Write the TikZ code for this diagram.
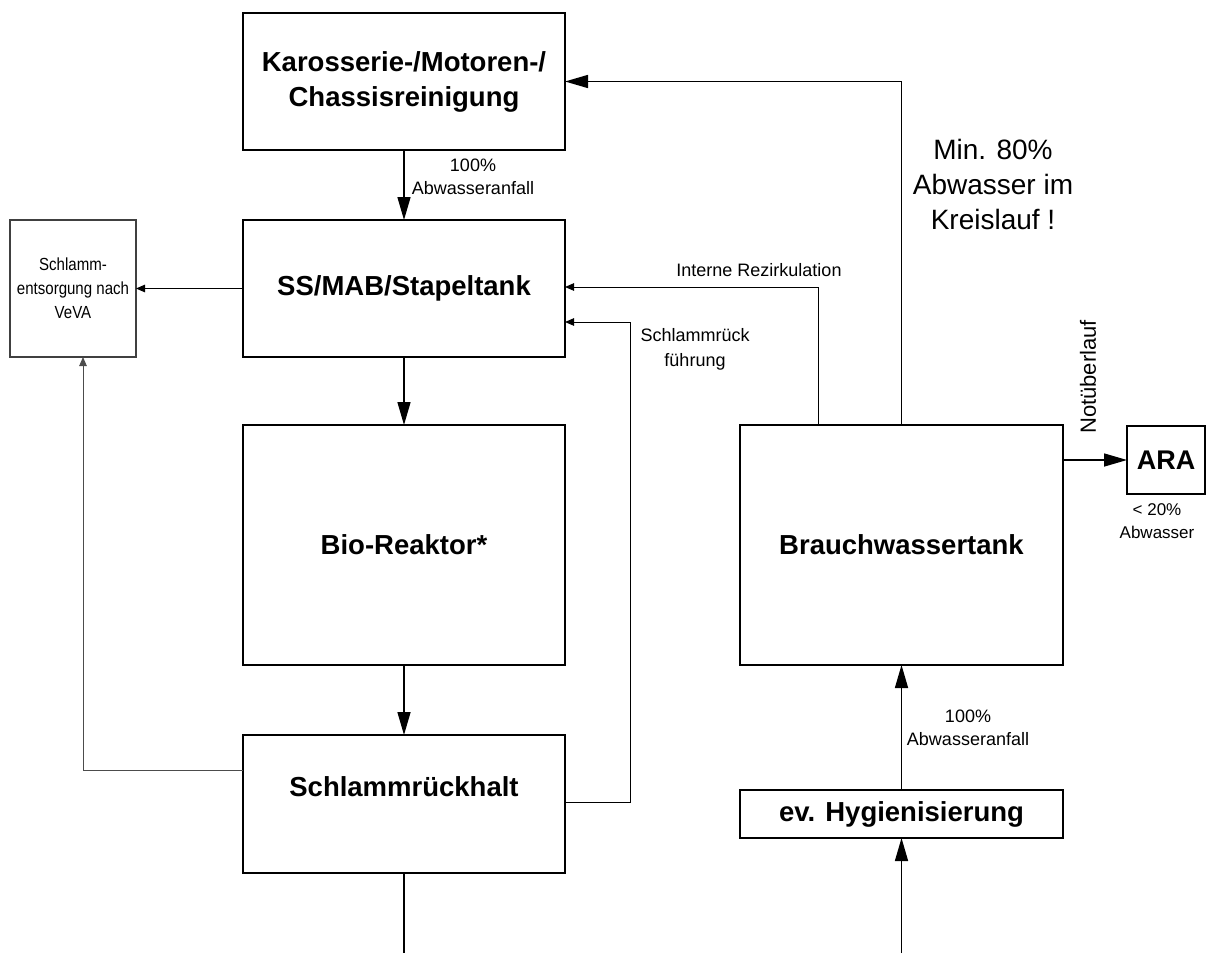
\documentclass[tikz,border=0pt]{standalone}
\usepackage{fontspec}
\setmainfont{Liberation Sans}
\newfontfamily\narrowfont[FakeStretch=0.86]{Liberation Sans}
\usetikzlibrary{arrows.meta}
\tikzset{
  box/.style={draw=black, line width=1.8pt, fill=white, inner sep=0pt, outer sep=0pt, align=center},
  bigtxt/.style={font=\fontsize{27.5}{35}\selectfont\bfseries, align=center},
  smalltxt/.style={font=\fontsize{18}{23}\selectfont, align=center, inner sep=0pt},
  mainflow/.style={line width=1.5pt, -{Triangle[length=23pt,width=13pt]}},
  thinflow/.style={line width=1pt, -{Triangle[length=9pt,width=7.5pt]}},
  plainflow/.style={line width=1.5pt}
}
\begin{document}
\begin{tikzpicture}[x=1pt,y=-1pt]
\useasboundingbox (0,0) rectangle (1206,953);
% boxes
\node[box, minimum width=322pt, minimum height=137pt, bigtxt] (kar) at (404,81.5) {Karosserie-/Motoren-/\\Chassisreinigung};
\node[box, minimum width=322pt, minimum height=137pt, bigtxt] (ss) at (404,288.5) {SS/MAB/Stapeltank};
\node[box, draw=black!75, line width=1.3pt, minimum width=126pt, minimum height=137pt, font=\narrowfont\fontsize{17.5}{24}\selectfont] (schl) at (73,288.5) {Schlamm-\\entsorgung nach\\VeVA};
\node[box, minimum width=322pt, minimum height=240pt, bigtxt] (bio) at (404,545) {Bio-Reaktor*};
\node[box, minimum width=322pt, minimum height=138pt] (sr) at (404,804) {};
\node[bigtxt] (srtext) at (404,787) {Schlammrückhalt};
\node[box, minimum width=323pt, minimum height=240pt, bigtxt] (bw) at (901.5,545) {Brauchwassertank};
\node[box, minimum width=323pt, minimum height=48pt, bigtxt] (hyg) at (901.5,814) {ev. Hygienisierung};
\node[box, minimum width=78pt, minimum height=68pt, font=\fontsize{27}{30}\selectfont\bfseries] (ara) at (1166,460) {ARA};
% helper coordinates
\coordinate (sfturn) at (630,322);
\coordinate (irx) at (818,0);
\coordinate (inBot) at (901.5,953);
\coordinate (outBot) at (404,953);
% connectors
\draw[mainflow] (kar.south) -- (ss.north);
\draw[thinflow] (ss.west) -- (schl.east);
\draw[mainflow] (ss.south) -- (bio.north);
\draw[mainflow] (bio.south) -- (sr.north);
\draw[thinflow, draw=black!70] ([yshift=34pt]sr.west) -| ([xshift=10pt]schl.south);
\draw[thinflow] ([yshift=2pt]sr.east) -| (sfturn) -- (sfturn -| ss.east);
\draw[thinflow] (bw.north -| irx) |- ([yshift=1.5pt]ss.east);
\draw[mainflow] (bw.north) |- (kar.east);
\draw[mainflow] (ara.west -| bw.east) -- (ara.west);
\draw[mainflow] (hyg.north) -- (bw.south);
\draw[mainflow] (inBot) -- (hyg.south);
\draw[plainflow] (sr.south) -- (outBot);
% labels
\node[smalltxt] (l100a) at (473,177) {100\%\\Abwasseranfall};
\node[smalltxt] (lint) at (759,270) {Interne Rezirkulation};
\node[smalltxt, font=\fontsize{18}{25}\selectfont] (lsf) at (695,349) {Schlammrück\\führung};
\node[align=center, inner sep=0pt, font=\fontsize{28}{35}\selectfont] (lmin) at (993,184) {Min. 80\%\\Abwasser im\\Kreislauf !};
\node[inner sep=0pt, rotate=90, font=\fontsize{22}{26}\selectfont] (lnot) at (1088,377) {Notüberlauf};
\node[smalltxt, font=\fontsize{17}{23}\selectfont] (l20) at (1157,521) {< 20\%\\Abwasser};
\node[smalltxt] (l100b) at (968,728) {100\%\\Abwasseranfall};
\end{tikzpicture}
\end{document}
